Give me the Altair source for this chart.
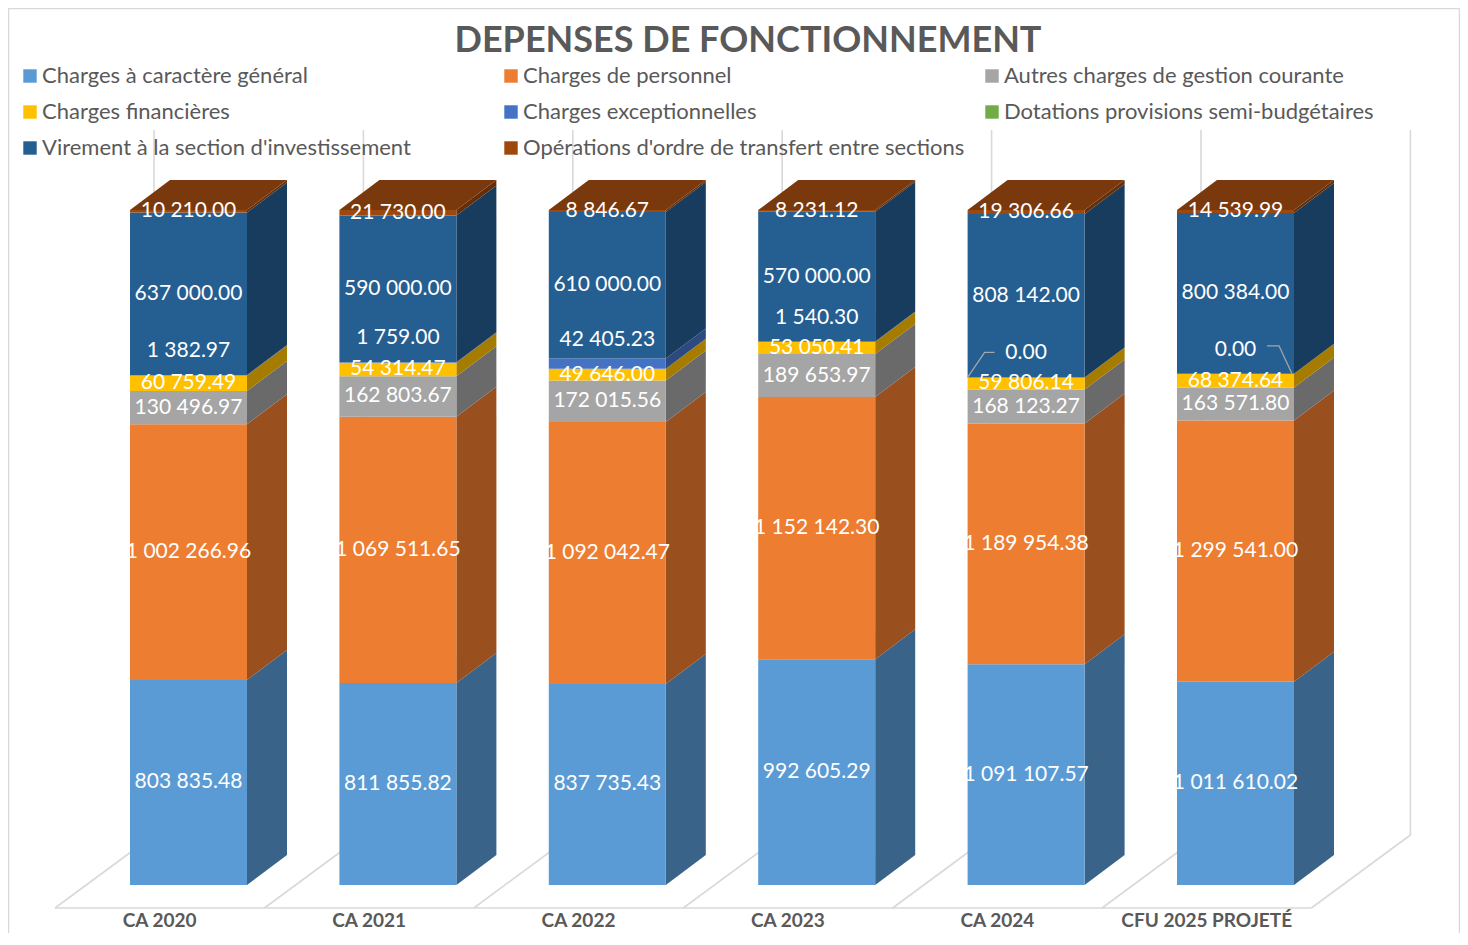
import altair as alt
import pandas as pd

# ---------------- data ----------------
categories = ["CA 2020", "CA 2021", "CA 2022", "CA 2023", "CA 2024", "CFU 2025 PROJETÉ"]
series = [
    "Charges à caractère général",
    "Charges de personnel",
    "Autres charges de gestion courante",
    "Charges financières",
    "Charges exceptionnelles",
    "Dotations provisions semi-budgétaires",
    "Virement à la section d'investissement",
    "Opérations d'ordre de transfert entre sections",
]
charges_generales = [803835.48, 811855.82, 837735.43, 992605.29, 1091107.57, 1011610.02]
charges_personnel = [1002266.96, 1069511.65, 1092042.47, 1152142.30, 1189954.38, 1299541.00]
autres_charges = [130496.97, 162803.67, 172015.56, 189653.97, 168123.27, 163571.80]
charges_financieres = [60759.49, 54314.47, 49646.00, 53050.41, 59806.14, 68374.64]
charges_exceptionnelles = [1382.97, 1759.00, 42405.23, 1540.30, 0.00, 0.00]
dotations = [None, None, None, None, None, None]
virement = [637000.00, 590000.00, 610000.00, 570000.00, 808142.00, 800384.00]
operations_ordre = [10210.00, 21730.00, 8846.67, 8231.12, 19306.66, 14539.99]
values = [charges_generales, charges_personnel, autres_charges, charges_financieres,
          charges_exceptionnelles, dotations, virement, operations_ordre]

# leader line side for the "0.00" labels (as in the source chart)
zero_leader_side = {"CA 2024": "left", "CFU 2025 PROJETÉ": "right"}

# ---------------- style ----------------
front_colors = ["#5B9BD5", "#ED7D31", "#A5A5A5", "#FFC000", "#4472C4", "#70AD47", "#255E91", "#9E480E"]
side_colors = ["#3A6389", "#9A4F1E", "#6A6A6A", "#A67C00", "#2C4A7F", "#48702E", "#183C5E", "#652E09"]
top_color = "#7A380D"
grid_color = "#D9D9D9"
text_gray = "#595959"
FONT = "Lato"

W, H = 1452, 925
XU, YU = 209.4, 675.0          # px per category slot / px per 100 %
BW = 58.5 / XU                  # half bar width
DDX, DDY = 40 / XU, 30 / YU     # bar depth extrusion
FX, FY = -28.8 / XU, -23 / YU   # floor front edge offset
BX, BY = 70.2 / XU, 50 / YU     # back wall offset
WALL_TOP = 1 + 80 / YU
XMIN = 0.5 - 180.5 / XU
YMAX = 877 / YU
xs = alt.Scale(domain=[XMIN, XMIN + W / XU], nice=False, zero=False)
ys = alt.Scale(domain=[YMAX - H / YU, YMAX], nice=False, zero=False)


def X(f, **kw):
    return alt.X(f, type="quantitative", scale=xs, axis=None, **kw)


def Y(f, **kw):
    return alt.Y(f, type="quantitative", scale=ys, axis=None, stack=None, **kw)


def fmt(v):
    return f"{v:,.2f}".replace(",", " ")


front, side, top, labels, leaders = [], [], [], [], []
for k, cat in enumerate(categories):
    col = [v[k] for v in values]
    total = sum(v for v in col if v is not None)
    cx = k + 0.5
    xl, xr = cx - BW, cx + BW
    cum = 0.0
    for s, name in enumerate(series):
        v = col[s]
        if v is None:
            continue
        y0 = cum / total
        cum += v
        y1 = cum / total
        front.append(dict(series=name, x=xl, x2=xr, y=y0, y2=y1))
        key = f"{k}-{s}"
        side.append(dict(key=key, c=side_colors[s], x=xr, y=y0, y2=y1))
        side.append(dict(key=key, c=side_colors[s], x=xr + DDX, y=y0 + DDY, y2=y1 + DDY))
        ly = (y0 + y1) / 2
        if s == 4:
            ly += 24 / YU
        labels.append(dict(x=cx, y=ly, t=fmt(v)))
        if s == 4 and v == 0 and cat in zero_leader_side:
            if zero_leader_side[cat] == "left":
                pts = [(xl + 27 / XU, y0 + 25 / YU), (xl + 17 / XU, y0 + 25 / YU), (xl, y0)]
            else:
                pts = [(xr - 27 / XU, y0 + 28 / YU), (xr - 15 / XU, y0 + 28 / YU), (xr - 2 / XU, y0)]
            for i, (px, py) in enumerate(pts):
                leaders.append(dict(key=key, o=i, x=px, y=py))
    top.append(dict(k=k, y=1.0, x=xl, x2=xr))
    top.append(dict(k=k, y=1.0 + DDY, x=xl + DDX, x2=xr + DDX))

n = len(categories)
floor = [dict(x=FX, y=FY, x2=n + FX, y2=FY)]
for k in range(n + 1):
    floor.append(dict(x=k + FX, y=FY, x2=k + BX, y2=BY))
    floor.append(dict(x=k + BX, y=BY, x2=k + BX, y2=WALL_TOP))
cats = [dict(x=k + 0.5 + FX, y=FY, t=c) for k, c in enumerate(categories)]

df_front, df_side, df_top = pd.DataFrame(front), pd.DataFrame(side), pd.DataFrame(top)
df_lab, df_lead = pd.DataFrame(labels), pd.DataFrame(leaders)
df_floor, df_cats = pd.DataFrame(floor), pd.DataFrame(cats)

floor_layer = alt.Chart(df_floor).mark_rule(color=grid_color, strokeWidth=1.6).encode(
    x=X("x"), x2="x2", y=Y("y"), y2="y2")

side_layer = alt.Chart(df_side).mark_area(interpolate="linear").encode(
    x=X("x"), y=Y("y"), y2="y2",
    color=alt.Color("c:N", scale=None), detail="key:N")

front_layer = alt.Chart(df_front).mark_rect().encode(
    x=X("x"), x2="x2", y=Y("y"), y2="y2",
    color=alt.Color("series:N", scale=alt.Scale(domain=series, range=front_colors),
                    legend=alt.Legend(title=None, orient="none", legendX=11, legendY=57,
                                      direction="horizontal",
                                      columns=3, symbolType="square", symbolSize=180,
                                      symbolStrokeWidth=0, labelFontSize=22, labelFont=FONT,
                                      labelColor=text_gray, labelLimit=700, columnPadding=16,
                                      rowPadding=14, gridAlign="all", labelOffset=1, padding=0)))

top_layer = alt.Chart(df_top).mark_area(orient="horizontal", color=top_color).encode(
    y=Y("y"), x=X("x"), x2="x2", detail="k:N")

label_layer = alt.Chart(df_lab).mark_text(color="white", font=FONT, fontSize=21,
                                          baseline="middle").encode(
    x=X("x"), y=Y("y"), text="t:N")

leader_layer = alt.Chart(df_lead).mark_line(color="#A6A6A6", strokeWidth=1.3).encode(
    x=X("x"), y=Y("y"), detail="key:N", order="o:Q")

cat_layer = alt.Chart(df_cats).mark_text(color=text_gray, font=FONT, fontSize=19, fontWeight="bold",
                                         baseline="alphabetic", dy=19).encode(
    x=X("x"), y=Y("y"), text="t:N")

border = alt.Chart(pd.DataFrame([{"a": 0}])).mark_rule(color=grid_color, strokeWidth=1.5)
border_layers = [
    border.encode(x=alt.value(0.5), y=alt.value(0), y2=alt.value(H)),
    border.encode(x=alt.value(W - 0.5), y=alt.value(0), y2=alt.value(H)),
    border.encode(x=alt.value(0), x2=alt.value(W), y=alt.value(0.5)),
]

chart = alt.layer(
    floor_layer, side_layer, front_layer, top_layer, label_layer, leader_layer, cat_layer,
    *border_layers
).properties(
    width=W, height=H, padding=0,
    autosize=alt.AutoSizeParams(type="none"),
    title=alt.Title("DEPENSES DE FONCTIONNEMENT", fontSize=36, font=FONT, fontWeight="bold",
                    color=text_gray, anchor="middle", frame="group", offset=-81,
                    baseline="alphabetic", dx=14),
).configure_view(stroke=None)

chart.save("out.html", embed_options={"renderer": "svg", "actions": False})
